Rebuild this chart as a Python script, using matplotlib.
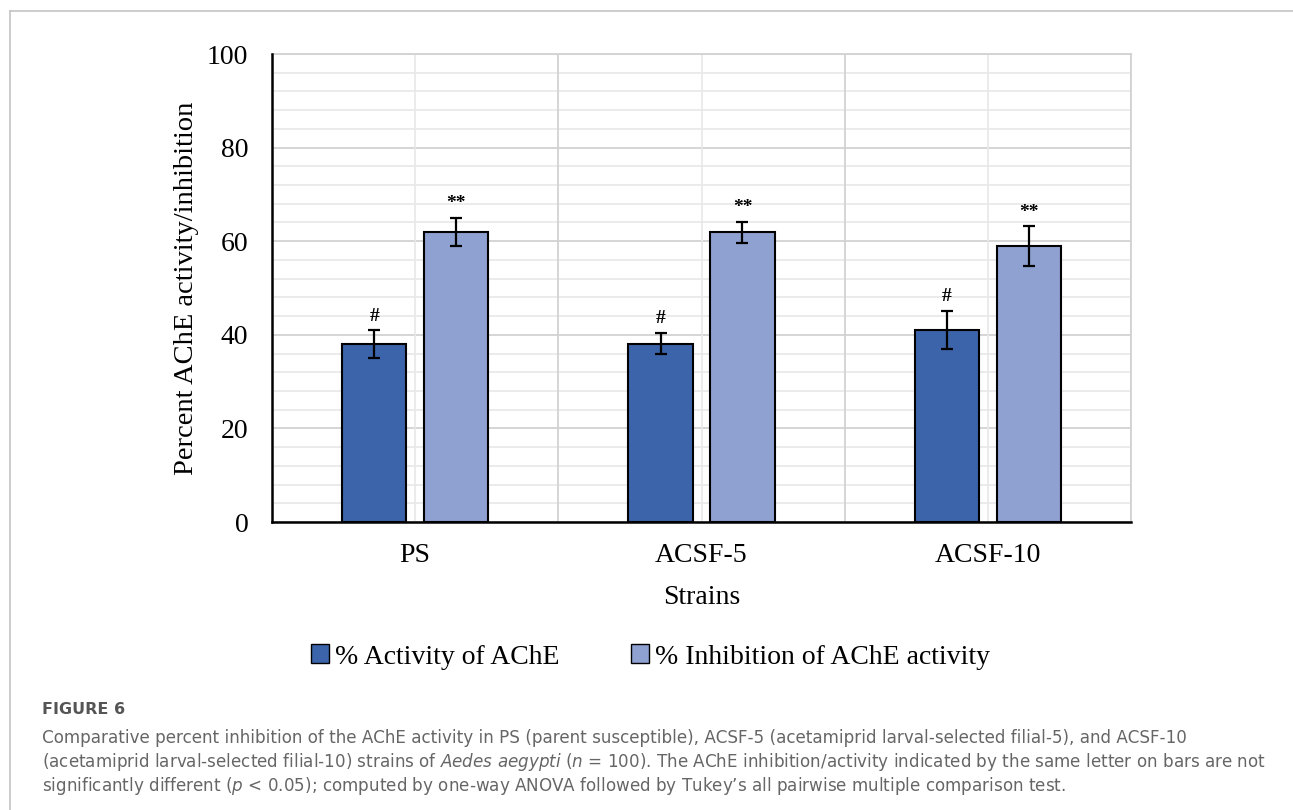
import matplotlib
matplotlib.use("Agg")
import matplotlib.pyplot as plt
import numpy as np
from matplotlib.patches import Patch
from matplotlib.lines import Line2D

categories = ["PS", "ACSF-5", "ACSF-10"]
activity = [38.0, 38.1, 41.0]
activity_err = [3.0, 2.3, 4.1]
inhibition = [62.0, 61.9, 59.0]
inhibition_err = [3.0, 2.3, 4.2]
activity_marks = ["#", "#", "#"]
inhibition_marks = ["**", "**", "**"]
series_labels = ["% Activity of AChE", "% Inhibition of AChE activity"]
yticks = [0, 20, 40, 60, 80, 100]

plt.rcParams["mathtext.fontset"] = "custom"
plt.rcParams["mathtext.it"] = "DejaVu Sans:italic"
plt.rcParams["mathtext.rm"] = "DejaVu Sans"

W, H = 1293, 810
fig = plt.figure(figsize=(W / 100, H / 100), dpi=100)
serif = "Liberation Serif"

# page frame lines
fig.add_artist(Line2D([10 / W, 1], [1 - 11 / H, 1 - 11 / H], color="#c4c4c4", lw=1.2))
fig.add_artist(Line2D([10 / W, 10 / W], [0, 1 - 11 / H], color="#c4c4c4", lw=1.2))

ax = fig.add_axes([272 / W, 1 - 522 / H, (1131 - 272) / W, (522 - 54) / H])
x = np.arange(len(categories))
bw = 0.224
off = 0.143
dark = "#3C64AA"
light = "#8EA1D1"

ax.set_xlim(-0.5, len(categories) - 0.5)
ax.set_ylim(0, 100)

# gridlines
for v in np.arange(0, 101, 4):
    if v % 20 == 0:
        ax.axhline(v, color="#d2d2d2", lw=1.3, zorder=0)
    else:
        ax.axhline(v, color="#e8e8e8", lw=1.2, zorder=0)
for b in np.arange(-0.5, len(categories), 1.0):
    ax.axvline(b, color="#d2d2d2", lw=1.3, zorder=0)
for c in x:
    ax.axvline(c, color="#e8e8e8", lw=1.2, zorder=0)

ax.bar(x - off, activity, bw, color=dark, edgecolor="black", lw=1.5, zorder=2)
ax.bar(x + off, inhibition, bw, color=light, edgecolor="black", lw=1.5, zorder=2)
ax.errorbar(x - off, activity, yerr=activity_err, fmt="none", ecolor="black",
            elinewidth=1.6, capsize=4.5, capthick=1.6, zorder=3)
ax.errorbar(x + off, inhibition, yerr=inhibition_err, fmt="none", ecolor="black",
            elinewidth=1.6, capsize=4.5, capthick=1.6, zorder=3)

for i in range(len(categories)):
    ax.text(x[i] - off, activity[i] + activity_err[i] + 1.2, activity_marks[i],
            ha="center", va="bottom", fontsize=14, fontweight="bold", family=serif)
    ax.text(x[i] + off, inhibition[i] + inhibition_err[i] + 1.2, inhibition_marks[i],
            ha="center", va="bottom", fontsize=14, fontweight="bold", family=serif)

ax.set_yticks(yticks)
ax.set_yticklabels([str(t) for t in yticks], family=serif, fontsize=20)
ax.set_xticks(x)
ax.set_xticklabels(categories, family=serif, fontsize=20)
ax.tick_params(axis="both", length=0)
ax.tick_params(axis="y", pad=17)
ax.tick_params(axis="x", pad=15)

for s in ["top", "right"]:
    ax.spines[s].set_color("#d2d2d2")
    ax.spines[s].set_linewidth(1.3)
for s in ["left", "bottom"]:
    ax.spines[s].set_color("black")
    ax.spines[s].set_linewidth(1.8)
ax.spines["left"].set_zorder(4)
ax.spines["bottom"].set_zorder(4)

ax.set_xlabel("Strains", family=serif, fontsize=20, labelpad=12)
ax.set_ylabel("Percent AChE activity/inhibition", family=serif, fontsize=20.5, labelpad=6)

handles = [Patch(facecolor=dark, edgecolor="black", lw=1.0),
           Patch(facecolor=light, edgecolor="black", lw=1.0)]
fig.legend(handles, series_labels, loc="center", bbox_to_anchor=(0.503, 1 - 657 / H),
           ncol=2, frameon=False, prop={"family": serif, "size": 20},
           handlelength=0.65, handleheight=0.65, handletextpad=0.2, columnspacing=2.6)

# caption
fig.text(42 / W, 1 - 709 / H, "FIGURE 6", family="DejaVu Sans", fontsize=11.5,
         fontweight="bold", color="#555555", va="center", ha="left")
cap_lines = [
    "Comparative percent inhibition of the AChE activity in PS (parent susceptible), ACSF-5 (acetamiprid larval-selected filial-5), and ACSF-10",
    "(acetamiprid larval-selected filial-10) strains of $\\mathit{Aedes\\ aegypti}$ ($\\mathit{n}$ = 100). The AChE inhibition/activity indicated by the same letter on bars are not",
    "significantly different ($\\mathit{p}$ < 0.05); computed by one-way ANOVA followed by Tukey\u2019s all pairwise multiple comparison test.",
]
for k, line in enumerate(cap_lines):
    fig.text(42 / W, 1 - (738 + 24 * k) / H, line, family="DejaVu Sans", fontsize=12.1,
             color="#666666", va="center", ha="left")

fig.savefig("out.png", dpi=100)
